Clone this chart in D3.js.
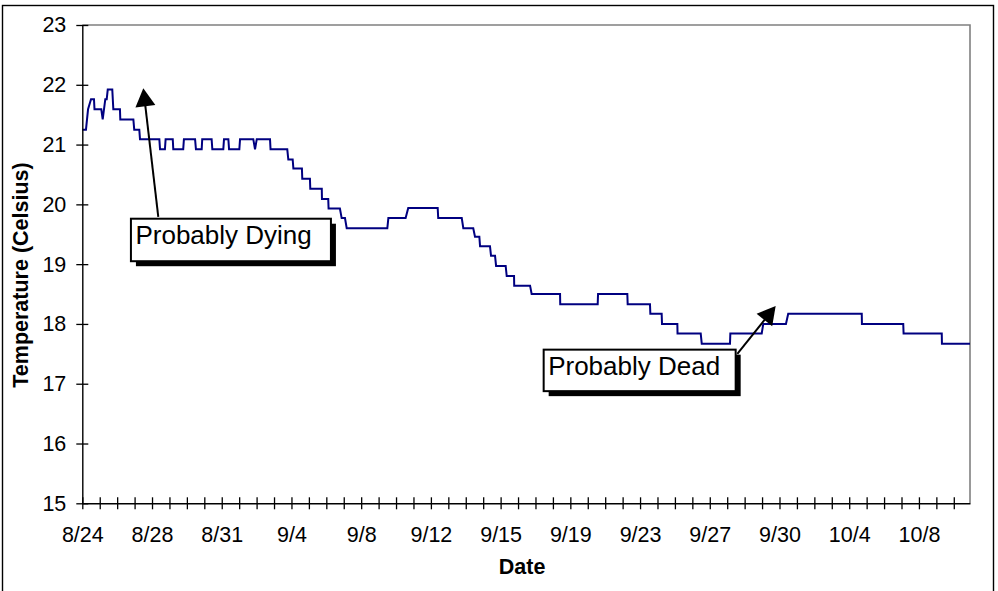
<!DOCTYPE html>
<html><head><meta charset="utf-8">
<script src="https://cdn.jsdelivr.net/npm/d3@7/dist/d3.min.js"></script>
<style>
html,body{margin:0;padding:0;background:#fff;}
svg{display:block;}
text{font-family:"Liberation Sans",Arial,Helvetica,sans-serif;fill:#000;}
</style></head><body>
<svg id="chart" width="998" height="591"></svg>
<script>
// ---------- data ----------
const tickLabels = ["8/24","8/28","8/31","9/4","9/8","9/12","9/15","9/19","9/23","9/27","9/30","10/4","10/8"];
const labelEvery = 4;          // a label on every 4th tick mark
const tickMarks = d3.range(0, 51);
const axisEnd = 50.93;         // category-axis length, in tick units
const yTicks = [15,16,17,18,19,20,21,22,23];
const xTitle = "Date";
const yTitle = "Temperature (Celsius)";

// series: position along the category axis (tick units) and temperature (°C)
const positions = [0,0.21,0.33,0.50,0.67,0.70,1.09,1.17,1.32,1.40,1.46,1.72,1.78,2.16,2.18,2.93,2.98,3.27,3.31,4.42,
  4.46,4.74,4.78,5.19,5.22,5.79,5.83,6.47,6.52,6.85,6.88,7.42,7.46,8.09,8.13,8.38,8.42,9.01,9.05,9.81,
  9.91,10.01,10.77,10.80,11.76,11.82,12.07,12.11,12.60,12.62,13.06,13.08,13.74,13.75,14.11,14.13,14.78,14.88,15.07,15.17,
  17.50,17.56,18.55,18.70,20.39,20.42,21.77,21.86,22.43,22.53,22.78,22.82,23.39,23.45,23.68,23.74,24.29,24.35,24.77,24.78,
  25.69,25.78,27.41,27.42,29.57,29.59,31.27,31.29,32.57,32.59,33.24,33.26,34.14,34.15,35.48,35.54,37.16,37.18,38.98,39.07,
  40.37,40.50,44.72,44.73,47.10,47.12,49.31,49.32,50.93];
const temps = [21.25,21.25,21.59,21.76,21.76,21.59,21.59,21.42,21.76,21.76,21.92,21.92,21.59,21.59,21.42,21.42,21.25,21.25,21.09,21.09,
  20.92,20.92,21.09,21.09,20.92,20.92,21.09,21.09,20.92,20.92,21.09,21.09,20.92,20.92,21.09,21.09,20.92,20.92,21.09,21.09,
  20.92,21.09,21.09,20.92,20.92,20.75,20.75,20.60,20.60,20.43,20.43,20.26,20.26,20.09,20.09,19.93,19.93,19.77,19.77,19.60,
  19.60,19.77,19.77,19.94,19.94,19.77,19.77,19.60,19.60,19.46,19.46,19.30,19.30,19.14,19.14,18.97,18.97,18.80,18.80,18.64,
  18.64,18.50,18.50,18.33,18.33,18.50,18.50,18.33,18.33,18.17,18.17,18.00,18.00,17.84,17.84,17.67,17.67,17.84,17.84,18.00,
  18.00,18.17,18.17,18.00,18.00,17.84,17.84,17.67,17.67];

// annotations (data coordinates)
const annoLabels = ["Probably Dying","Probably Dead"];
const annoBoxAt  = [[2.79,19.76],[26.47,17.57]];
const arrowTail  = [[4.36,19.79],[37.58,17.50]];
const arrowTip   = [[3.50,21.94],[39.78,18.30]];

// ---------- layout / style ----------
const plot = {left:82.3, right:970, top:25, bottom:503.3};
const boxSize = [[200,42.5],[192,41.5]];
const fontTick = 21.5, fontTitle = 21.5, fontAnno = 26;

const svg = d3.select("#chart");
const x = d3.scaleLinear().domain([0, axisEnd]).range([plot.left, plot.right]);
const y = d3.scaleLinear().domain([15, 23]).range([plot.bottom, plot.top]);

// outer chart border
svg.append("rect").attr("x",2.5).attr("y",5.5).attr("width",991).attr("height",600)
  .attr("fill","#fff").attr("stroke","#000").attr("stroke-width",1.4);

// plot-area border (grey top and right)
svg.append("path").attr("d",`M${plot.left},${plot.top}H${plot.right}V${plot.bottom}`)
  .attr("fill","none").attr("stroke","#808080").attr("stroke-width",1.6);

// series line
const line = d3.line().x(i => x(positions[i])).y(i => y(temps[i]));
svg.append("path").attr("d", line(d3.range(positions.length)))
  .attr("fill","none").attr("stroke","#000080").attr("stroke-width",2).attr("stroke-linejoin","miter");

// y axis
const yAxis = d3.axisLeft(y).tickValues(yTicks).tickSizeInner(6).tickSizeOuter(0).tickPadding(10).tickFormat(d3.format("d"));
const gy = svg.append("g").attr("transform",`translate(${plot.left},0)`).call(yAxis);
gy.select(".domain").attr("stroke","#000").attr("stroke-width",1.4);
gy.selectAll(".tick line").attr("x1",6).attr("x2",-6).attr("stroke","#000").attr("stroke-width",1.3);
gy.selectAll(".tick text").attr("font-size",fontTick).attr("font-family",null);

// x axis
const xAxis = d3.axisBottom(x).tickValues(tickMarks).tickSizeInner(6).tickSizeOuter(0).tickPadding(17)
  .tickFormat(i => i % labelEvery === 0 ? (tickLabels[i / labelEvery] || "") : "");
const gx = svg.append("g").attr("transform",`translate(0,${plot.bottom})`).call(xAxis);
gx.select(".domain").attr("stroke","#000").attr("stroke-width",1.4);
gx.selectAll(".tick line").attr("y1",-6).attr("y2",6).attr("stroke","#000").attr("stroke-width",1.3);
gx.selectAll(".tick text").attr("font-size",fontTick).attr("font-family",null);
svg.selectAll(".tick text").style("font-family",'"Liberation Sans",Arial,sans-serif');

// axis titles
svg.append("text").attr("x",(plot.left+plot.right)/2 - 4).attr("y",574)
  .attr("text-anchor","middle").attr("font-weight","bold").attr("font-size",fontTitle).text(xTitle);
svg.append("text").attr("transform",`translate(28,275) rotate(-90)`)
  .attr("text-anchor","middle").attr("font-weight","bold").attr("font-size",fontTitle).text(yTitle);

// annotations
annoLabels.forEach((lab, k) => {
  const bx = x(annoBoxAt[k][0]), by = y(annoBoxAt[k][1]);
  const [bw, bh] = boxSize[k];
  // arrow
  const tx = x(arrowTail[k][0]), ty = y(arrowTail[k][1]);
  const hx = x(arrowTip[k][0]),  hy = y(arrowTip[k][1]);
  const len = Math.hypot(hx - tx, hy - ty), ux = (hx - tx) / len, uy = (hy - ty) / len;
  const headL = 18, headW = 10;
  const baseX = hx - ux * headL, baseY = hy - uy * headL;
  svg.append("line").attr("x1",tx).attr("y1",ty).attr("x2",baseX + ux*2).attr("y2",baseY + uy*2)
    .attr("stroke","#000").attr("stroke-width",2);
  svg.append("path").attr("d",`M${hx},${hy}L${baseX - uy*headW},${baseY + ux*headW}L${baseX + uy*headW},${baseY - ux*headW}Z`)
    .attr("fill","#000");
  // shadow + box
  svg.append("rect").attr("x",bx+5).attr("y",by+5).attr("width",bw).attr("height",bh).attr("fill","#000");
  svg.append("rect").attr("x",bx).attr("y",by).attr("width",bw).attr("height",bh)
    .attr("fill","#fff").attr("stroke","#000").attr("stroke-width",2);
  svg.append("text").attr("x",bx+4.5).attr("y",by+25.5).attr("font-size",fontAnno).text(lab);
});
</script>
</body></html>
